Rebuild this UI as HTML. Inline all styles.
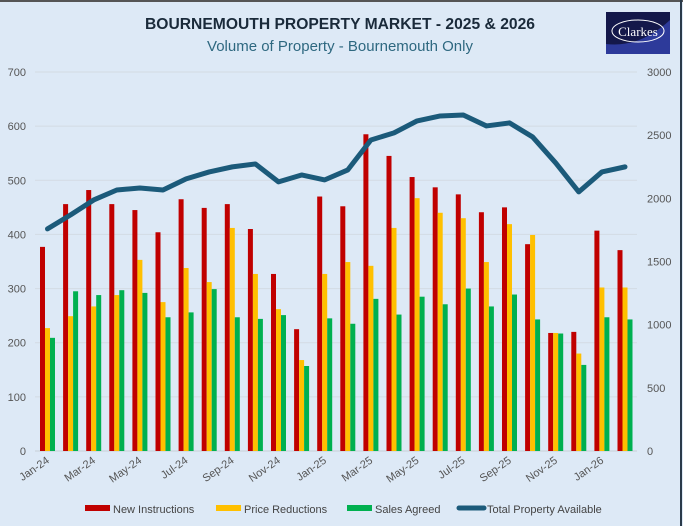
<!DOCTYPE html>
<html><head><meta charset="utf-8"><style>
body{margin:0;width:683px;height:526px;overflow:hidden;background:#dde9f6;font-family:"Liberation Sans",sans-serif}
</style></head><body>
<svg id="s" width="683" height="526" xmlns="http://www.w3.org/2000/svg" style="position:absolute;left:0;top:0">
<rect x="0" y="0" width="683" height="526" fill="#dde9f6"/>
<line x1="0" y1="1" x2="683" y2="1" stroke="#555" stroke-width="2"/>
<line x1="681" y1="0" x2="681" y2="526" stroke="#2a3a4a" stroke-width="2"/>
<text x="340" y="29" text-anchor="middle" font-size="16" font-weight="bold" fill="#1a2a3a" textLength="390" lengthAdjust="spacingAndGlyphs">BOURNEMOUTH PROPERTY MARKET - 2025 &amp; 2026</text>
<text x="340" y="51" text-anchor="middle" font-size="15" fill="#2e6880">Volume of Property - Bournemouth Only</text>
<rect x="606" y="12" width="64" height="42" fill="#2d3a9a"/>
<path d="M606 12 H670 V20 Q640 48 606 44 Z" fill="#14184a"/>
<ellipse cx="638" cy="31" rx="26" ry="11" fill="none" stroke="#fff" stroke-width="1"/>
<text x="638" y="36" text-anchor="middle" font-size="13" font-family="Liberation Serif,serif" fill="#fff">Clarkes</text>
<g id="g"></g>
</svg>
<script>
var R=[377,456,482,456,445,404,465,449,456,410,327,225,470,452,585,545,506,487,474,441,450,382,218,220,407,371];
var Y=[227,249,267,288,353,275,338,312,412,327,262,168,327,349,342,412,467,440,430,349,419,399,218,180,302,302];
var G=[209,295,288,297,292,247,256,299,247,244,251,157,245,235,281,252,285,271,300,267,289,243,217,159,247,243];
var L=[1758,1869,1987,2066,2082,2066,2154,2209,2249,2272,2130,2185,2146,2225,2462,2518,2613,2652,2660,2573,2597,2486,2280,2051,2209,2249];
var M=["Jan-24","Mar-24","May-24","Jul-24","Sep-24","Nov-24","Jan-25","Mar-25","May-25","Jul-25","Sep-25","Nov-25","Jan-26"];
var h='',y0=451,k=379/700,kr=379/3000;
for(var v=0;v<=700;v+=100){var y=y0-v*k;
 if(v>0)h+='<line x1="35" x2="637" y1="'+y+'" y2="'+y+'" stroke="#d3dbe3" stroke-width="1"/>';
 h+='<text x="26" y="'+(y+4)+'" text-anchor="end" font-size="11" fill="#555">'+v+'</text>';}
for(var v=0;v<=3000;v+=500){var y=y0-v*kr;
 h+='<text x="647" y="'+(y+4)+'" font-size="11" fill="#555">'+v+'</text>';}
h+='<line x1="35" x2="637" y1="451" y2="451" stroke="#c8cfd6"/>';
for(var i=0;i<26;i++){var x=40+23.1*i;
 h+='<rect x="'+x+'" y="'+(y0-R[i]*k)+'" width="5" height="'+R[i]*k+'" fill="#c00000"/>';
 h+='<rect x="'+(x+5)+'" y="'+(y0-Y[i]*k)+'" width="5" height="'+Y[i]*k+'" fill="#ffc000"/>';
 h+='<rect x="'+(x+10)+'" y="'+(y0-G[i]*k)+'" width="5" height="'+G[i]*k+'" fill="#00b050"/>';}
var p='';for(var i=0;i<26;i++){p+=(i?'L':'M')+(47.5+23.1*i)+' '+(y0-L[i]*kr);}
h+='<path d="'+p+'" fill="none" stroke="#1b5a7a" stroke-width="5" stroke-linejoin="round" stroke-linecap="round"/>';
for(var j=0;j<13;j++){var x=50+46.2*j;
 h+='<text transform="translate('+x+',462) rotate(-35)" text-anchor="end" font-size="11" fill="#555">'+M[j]+'</text>';}
h+='<rect x="85" y="505" width="25" height="6" fill="#c00000"/><text x="113" y="513" font-size="11" fill="#444">New Instructions</text>';
h+='<rect x="216" y="505" width="25" height="6" fill="#ffc000"/><text x="244" y="513" font-size="11" fill="#444">Price Reductions</text>';
h+='<rect x="347" y="505" width="25" height="6" fill="#00b050"/><text x="375" y="513" font-size="11" fill="#444">Sales Agreed</text>';
h+='<line x1="459" x2="484" y1="508" y2="508" stroke="#1b5a7a" stroke-width="5" stroke-linecap="round"/><text x="487" y="513" font-size="11" fill="#444">Total Property Available</text>';
document.getElementById('g').innerHTML=h;
</script>
</body></html>
